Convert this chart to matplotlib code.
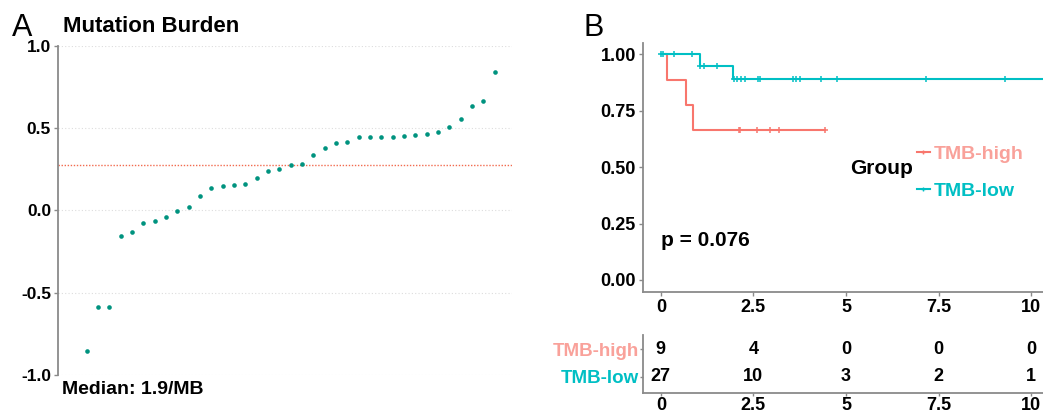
import matplotlib
matplotlib.use('Agg')
import matplotlib.pyplot as plt
from matplotlib.lines import Line2D
import numpy as np

plt.rcParams['font.family'] = ['Liberation Sans Narrow', 'DejaVu Sans Condensed', 'Liberation Sans', 'DejaVu Sans']

# panel A: log10 TMB per sample, sorted
tmb = [-0.855, -0.587, -0.587, -0.157, -0.132, -0.077, -0.065, -0.039, -0.002, 0.022,
       0.086, 0.138, 0.151, 0.157, 0.163, 0.198, 0.240, 0.253, 0.277, 0.281,
       0.338, 0.379, 0.407, 0.413, 0.444, 0.444, 0.446, 0.446, 0.454, 0.456,
       0.464, 0.479, 0.505, 0.556, 0.637, 0.666, 0.841]
a_ticks = [-1.0, -0.5, 0.0, 0.5, 1.0]

# panel B: KM steps and censor marks
groups = ['TMB-high', 'TMB-low']
high_t = [0, 0.16, 0.68, 0.86, 4.43]
high_s = [1.0, 0.886, 0.774, 0.666, 0.666]
high_cens = [2.10, 2.15, 2.59, 2.96, 3.18, 4.43]
low_t = [0, 1.06, 1.94, 10.6]
low_s = [1.0, 0.948, 0.890, 0.890]
low_cens = [0.0, 0.05, 0.36, 0.83, 1.06, 1.17, 1.51, 1.98, 2.05, 2.16, 2.28, 2.63, 2.68,
            3.56, 3.64, 3.76, 4.32, 4.76, 7.15, 9.29]
risk_times = [0, 2.5, 5, 7.5, 10]
risk_high = [9, 4, 0, 0, 0]
risk_low = [27, 10, 3, 2, 1]
pval = '0.076'

c_high = '#F8766D'
c_high_txt = '#F9A19A'
c_low = '#00BFC4'
dot_col = '#00937F'
spine_col = '#8a8a8a'

fig = plt.figure(figsize=(10.43, 4.13), dpi=100)

# ---- A ----
ax = fig.add_axes([0.0556, 0.092, 0.4353, 0.797])
x = np.arange(1, len(tmb) + 1)
ax.scatter(x, tmb, s=11, color=dot_col, zorder=3, linewidths=0)
for t in a_ticks:
    ax.axhline(t, color='#dddddd', lw=0.8, ls=(0, (1, 2)), zorder=1)
ax.axhline(np.median(tmb), color='#F26B4F', lw=1.0, ls=(0, (1, 1.2)), zorder=2)
ax.set_xlim(-1.53, 38.53)
ax.set_ylim(-1.0, 1.0)
ax.set_yticks(a_ticks)
ax.set_yticklabels(['%.1f' % t for t in a_ticks], fontsize=12.5, fontweight='bold')
ax.set_xticks([])
for s in ['top', 'right', 'bottom']:
    ax.spines[s].set_visible(False)
ax.spines['left'].set_color(spine_col)
ax.spines['left'].set_linewidth(1.3)
ax.tick_params(axis='y', color=spine_col, length=3, width=1, pad=2)

fig.text(0.0115, 0.932, 'A', fontsize=22, va='center', ha='left')
fig.text(0.0604, 0.935, 'Mutation Burden', fontsize=16, fontweight='bold', va='center', ha='left')
fig.text(0.0594, 0.0557, 'Median: 1.9/MB', fontsize=14, fontweight='bold', va='center', ha='left')

# ---- B: KM ----
axk = fig.add_axes([0.6162, 0.2937, 0.3838, 0.602])
axk.step(high_t, high_s, where='post', color=c_high, lw=1.5)
axk.step(low_t, low_s, where='post', color=c_low, lw=1.5)
hc = [high_s[np.searchsorted(high_t, t, side='right') - 1] for t in high_cens]
lc = [low_s[np.searchsorted(low_t, t, side='right') - 1] for t in low_cens]
axk.plot(high_cens, hc, ls='none', marker='+', ms=5, mew=1.1, color=c_high)
axk.plot(low_cens, lc, ls='none', marker='+', ms=5, mew=1.1, color=c_low)
axk.set_xlim(-0.49, 10.32)
axk.set_ylim(-0.052, 1.05)
axk.set_xticks(risk_times)
axk.set_xticklabels(['0', '2.5', '5', '7.5', '10'], fontsize=13, fontweight='bold')
yt = [0, 0.25, 0.5, 0.75, 1.0]
axk.set_yticks(yt)
axk.set_yticklabels(['%.2f' % t for t in yt], fontsize=13, fontweight='bold')
for s in ['top', 'right']:
    axk.spines[s].set_visible(False)
for s in ['left', 'bottom']:
    axk.spines[s].set_color(spine_col)
    axk.spines[s].set_linewidth(1.3)
axk.tick_params(color=spine_col, length=3, width=1, pad=2)
axk.text(0, 0.177, 'p = ' + pval, fontsize=15, fontweight='bold', ha='left', va='center')
axk.text(5.95, 0.492, 'Group', fontsize=15, fontweight='bold', ha='center', va='center')
handles = [Line2D([], [], color=c_high, marker='+', ms=3.5, lw=1.5),
           Line2D([], [], color=c_low, marker='+', ms=3.5, lw=1.5)]
leg = axk.legend(handles, groups, loc='center left', bbox_to_anchor=(0.685, 0.479),
                 frameon=False, borderpad=0, handlelength=0.65, handletextpad=0.2,
                 labelspacing=1.0, prop={'size': 14, 'weight': 'bold'},
                 labelcolor=[c_high_txt, c_low], borderaxespad=0)

fig.text(0.559, 0.932, 'B', fontsize=22, va='center', ha='left')

# ---- B: risk table ----
axr = fig.add_axes([0.6162, 0.049, 0.3838, 0.1397])
for i, t in enumerate(risk_times):
    axr.text(t, 2, str(risk_high[i]), fontsize=13, fontweight='bold', ha='center', va='center')
    axr.text(t, 1, str(risk_low[i]), fontsize=13, fontweight='bold', ha='center', va='center')
axr.set_xlim(-0.49, 10.32)
axr.set_ylim(0.42, 2.52)
axr.set_yticks([2, 1])
axr.set_yticklabels(groups, fontsize=13.5, fontweight='bold')
for lab, c in zip(axr.get_yticklabels(), [c_high_txt, c_low]):
    lab.set_color(c)
axr.set_xticks(risk_times)
axr.set_xticklabels(['0', '2.5', '5', '7.5', '10'], fontsize=13, fontweight='bold')
for s in ['top', 'right']:
    axr.spines[s].set_visible(False)
for s in ['left', 'bottom']:
    axr.spines[s].set_color(spine_col)
    axr.spines[s].set_linewidth(1.3)
axr.tick_params(color=spine_col, length=2, width=1, pad=1)

fig.savefig('out.png', dpi=100)
